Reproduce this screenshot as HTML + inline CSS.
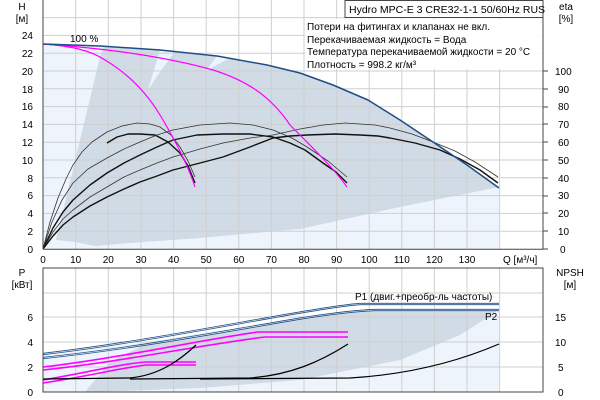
<!DOCTYPE html>
<html><head><meta charset="utf-8"><style>
body{margin:0;background:#fff;}
svg{display:block;font-family:"Liberation Sans",sans-serif;}
</style></head><body>
<svg width="600" height="400" viewBox="0 0 600 400" xmlns="http://www.w3.org/2000/svg">
<g>
<rect x="43" y="0" width="500" height="249" fill="#fff"/>
<polygon points="43,44 100,46 160,50 217,56 267,65 300,73 333,85 368,100 400,120 433,142 467,165 499,187 499,249 43,249" fill="#edf4fb"/>
<polygon points="100,57 104,46 160,50 217,56 267,65 300,73 333,85 368,100 400,120 433,142 467,165 499,187 400,207 300,229 200,238 130,243 95,246 75,242 56,240" fill="#d0dbe6"/>
<polygon points="148,90 160,50 176,50 160,72" fill="#edf4fb"/>
<polygon points="205,72 217,56 230,58 211,68" fill="#edf4fb"/>
<g stroke="#cfcfcf" stroke-width="1">
<line x1="75.7" y1="0" x2="75.7" y2="249"/><line x1="108.3" y1="0" x2="108.3" y2="249"/><line x1="141" y1="0" x2="141" y2="249"/><line x1="173.6" y1="0" x2="173.6" y2="249"/><line x1="206.2" y1="0" x2="206.2" y2="249"/><line x1="238.8" y1="0" x2="238.8" y2="249"/><line x1="271.4" y1="0" x2="271.4" y2="249"/><line x1="304" y1="0" x2="304" y2="249"/><line x1="336.6" y1="0" x2="336.6" y2="249"/><line x1="369.2" y1="0" x2="369.2" y2="249"/><line x1="401.8" y1="0" x2="401.8" y2="249"/><line x1="434.4" y1="0" x2="434.4" y2="249"/><line x1="467" y1="0" x2="467" y2="249"/><line x1="499.6" y1="0" x2="499.6" y2="249"/>
<line x1="43" y1="231.2" x2="543" y2="231.2"/><line x1="43" y1="213.4" x2="543" y2="213.4"/><line x1="43" y1="195.6" x2="543" y2="195.6"/><line x1="43" y1="177.8" x2="543" y2="177.8"/><line x1="43" y1="160" x2="543" y2="160"/><line x1="43" y1="142.2" x2="543" y2="142.2"/><line x1="43" y1="124.4" x2="543" y2="124.4"/><line x1="43" y1="106.6" x2="543" y2="106.6"/><line x1="43" y1="88.8" x2="543" y2="88.8"/><line x1="43" y1="71" x2="543" y2="71"/><line x1="43" y1="53.2" x2="543" y2="53.2"/><line x1="43" y1="35.4" x2="543" y2="35.4"/><line x1="43" y1="17.6" x2="543" y2="17.6"/>
</g>
<g fill="none" stroke="#333" stroke-linejoin="round">
<polyline points="43,249 50,222 58,198 66,179 73,165 82,152 92,142 107,132 122,126 137,123 150,124 160,127 171,135 180,147 188,161 195,177" stroke-width="0.8"/>
<polyline points="107,143 117,137 128,134 140,134 155,135 168,142 180,153 188,166 195,183" stroke="#111" stroke-width="1.4"/>
<polyline points="43,249 52,222 62,200 73,183 88,169 107,158 124,149 140,142 157,135 173,130 200,125 230,123 253,125 273,130 292,138 307,147 328,161 347,177" stroke-width="0.8"/>
<polyline points="43,249 53,228 63,212 73,200 90,185 107,173 124,163 140,155 157,147 173,140 197,135 223,134 250,134 273,137 290,143 305,150 323,163 336,172 347,183" stroke="#111" stroke-width="1.4"/>
<polyline points="43,249 53,232 63,219 73,210 90,197 107,187 124,177 140,170 157,163 173,157 200,149 223,143 250,138 273,135 300,129 323,125 345,123 360,124 375,125 390,128 412,134 433,142 455,151 475,162 498,177" stroke-width="0.8"/>
<polyline points="43,249 53,236 63,225 73,217 90,206 107,197 124,189 140,182 157,176 173,170 200,163 223,157 250,147 273,138 290,136 307,135 335,134 360,135 378,136 390,138 415,143 440,150 460,159 480,170 498,183" stroke="#111" stroke-width="1.4"/>
</g>
<g fill="none" stroke="#ff00ff" stroke-width="1.2">
<path d="M43,44 C70,46 90,50 105,60 C125,72 145,90 160,115 C175,140 188,165 195,187"/>
<path d="M43,44 C100,48 160,55 213,70 C245,80 270,95 290,125 C315,150 335,170 347,187"/>
</g>
<path d="M43,44 L100,46 L160,50 L217,56 L267,65 L300,73 L333,85 L368,100 L400,120 L433,142 L467,165 L499,188" fill="none" stroke="#1f4e86" stroke-width="1.5" stroke-linejoin="round"/>
<text x="70" y="42" font-size="10" fill="#000">100 %</text>
<line x1="43" y1="0" x2="43" y2="249" stroke="#444"/>
<line x1="43" y1="249.3" x2="543" y2="249.3" stroke="#444"/>
<line x1="543" y1="0" x2="543" y2="249" stroke="#444"/>
<rect x="345" y="0.5" width="198" height="17" fill="#fff" stroke="#444"/>
<text x="349" y="13" font-size="10.5">Hydro MPC-E 3 CRE32-1-1 50/60Hz RUS</text>
<rect x="305" y="19" width="237" height="50" fill="#fff" opacity="0.95"/>
<text x="307" y="30" font-size="10">Потери на фитингах и клапанах не вкл.</text>
<text x="307" y="43" font-size="10">Перекачиваемая жидкость = Вода</text>
<text x="307" y="55" font-size="10">Температура перекачиваемой жидкости = 20 °C</text>
<text x="307" y="68" font-size="10">Плотность = 998.2 кг/м³</text>
<g font-size="10" text-anchor="end">
<text x="33" y="253">0</text><text x="33" y="235">2</text><text x="33" y="217">4</text><text x="33" y="199">6</text><text x="33" y="182">8</text><text x="33" y="164">10</text><text x="33" y="146">12</text><text x="33" y="128">14</text><text x="33" y="110">16</text><text x="33" y="93">18</text><text x="33" y="75">20</text><text x="33" y="57">22</text><text x="33" y="39">24</text>
</g>
<text x="22" y="10" font-size="10" text-anchor="middle">H</text>
<text x="22" y="22" font-size="10" text-anchor="middle">[м]</text>
<text x="566" y="10" font-size="10" text-anchor="middle">eta</text>
<text x="566" y="22" font-size="10" text-anchor="middle">[%]</text>
<g font-size="10">
<text x="560" y="253">0</text><text x="558" y="235">10</text><text x="558" y="217">20</text><text x="558" y="199">30</text><text x="558" y="182">40</text><text x="558" y="164">50</text><text x="558" y="146">60</text><text x="558" y="128">70</text><text x="558" y="110">80</text><text x="558" y="93">90</text><text x="555" y="75">100</text>
</g>
<g stroke="#444"><line x1="543" y1="249" x2="548" y2="249"/><line x1="543" y1="231" x2="548" y2="231"/><line x1="543" y1="213" x2="548" y2="213"/><line x1="543" y1="196" x2="548" y2="196"/><line x1="543" y1="178" x2="548" y2="178"/><line x1="543" y1="160" x2="548" y2="160"/><line x1="543" y1="142" x2="548" y2="142"/><line x1="543" y1="124" x2="548" y2="124"/><line x1="543" y1="107" x2="548" y2="107"/><line x1="543" y1="89" x2="548" y2="89"/><line x1="543" y1="71" x2="548" y2="71"/></g>
<g font-size="10" text-anchor="middle">
<text x="43" y="263">0</text><text x="75.7" y="263">10</text><text x="108.3" y="263">20</text><text x="141" y="263">30</text><text x="173.6" y="263">40</text><text x="206.2" y="263">50</text><text x="238.8" y="263">60</text><text x="271.4" y="263">70</text><text x="304" y="263">80</text><text x="336.6" y="263">90</text><text x="369.2" y="263">100</text><text x="401.8" y="263">110</text><text x="434.4" y="263">120</text><text x="467" y="263">130</text>
</g>
<text x="503" y="263" font-size="10">Q [м³/ч]</text>
</g>
<g>
<polygon points="43,352 150,342 250,326 345,311 499,309 499,392 43,392" fill="#edf4fb"/>
<polygon points="85,392 110,362 150,342 250,326 345,311 370,309 499,309 499,310 460,335 400,360 300,380 200,388 120,391" fill="#d0dbe6"/>
<g stroke="#cfcfcf">
<line x1="75.7" y1="268" x2="75.7" y2="392"/><line x1="108.3" y1="268" x2="108.3" y2="392"/><line x1="141" y1="268" x2="141" y2="392"/><line x1="173.6" y1="268" x2="173.6" y2="392"/><line x1="206.2" y1="268" x2="206.2" y2="392"/><line x1="238.8" y1="268" x2="238.8" y2="392"/><line x1="271.4" y1="268" x2="271.4" y2="392"/><line x1="304" y1="268" x2="304" y2="392"/><line x1="336.6" y1="268" x2="336.6" y2="392"/><line x1="369.2" y1="268" x2="369.2" y2="392"/><line x1="401.8" y1="268" x2="401.8" y2="392"/><line x1="434.4" y1="268" x2="434.4" y2="392"/><line x1="467" y1="268" x2="467" y2="392"/><line x1="499.6" y1="268" x2="499.6" y2="392"/>
<line x1="43" y1="367" x2="543" y2="367"/><line x1="43" y1="342" x2="543" y2="342"/><line x1="43" y1="317" x2="543" y2="317"/><line x1="43" y1="293" x2="543" y2="293"/>
</g>
<g fill="none" stroke="#1f4e86" stroke-width="2.2">
<path d="M43,354 C120,345 200,330 280,316 C320,309 345,305 360,304 L499,304"/>
<path d="M43,358 C120,350 200,336 280,322 C320,315 350,311 375,310 L499,310"/>
</g>
<g fill="none" stroke="#fff" stroke-width="0.6">
<path d="M43,354 C120,345 200,330 280,316 C320,309 345,305 360,304 L499,304"/>
<path d="M43,358 C120,350 200,336 280,322 C320,315 350,311 375,310 L499,310"/>
</g>
<g fill="none" stroke="#ff00ff" stroke-width="1.6">
<path d="M43,367 C120,358 200,340 258,332 L348,332"/>
<path d="M43,370 C120,362 200,345 265,337 L348,337"/>
<path d="M43,380 C90,372 120,364 146,362 L196,362"/>
<path d="M43,383 C90,376 120,368 146,365 L196,365"/>
</g>
<g fill="none" stroke="#000" stroke-width="1.2">
<path d="M43,379 L130,378 C160,375 180,360 196,345"/>
<path d="M130,379 L250,378 C290,375 320,362 348,344"/>
<path d="M200,379 L350,378 C400,375 450,365 499,344"/>
</g>
<text x="355" y="300" font-size="10">P1 (двиг.+преобр-ль частоты)</text>
<text x="485" y="320" font-size="10">P2</text>
<rect x="43" y="268" width="500" height="124" fill="none" stroke="#444"/>
<g font-size="10" text-anchor="end">
<text x="33" y="396">0</text><text x="33" y="371">2</text><text x="33" y="346">4</text><text x="33" y="321">6</text>
</g>
<text x="22" y="276" font-size="10" text-anchor="middle">P</text>
<text x="22" y="288" font-size="10" text-anchor="middle">[кВт]</text>
<text x="570" y="276" font-size="10" text-anchor="middle">NPSH</text>
<text x="570" y="288" font-size="10" text-anchor="middle">[м]</text>
<g font-size="10">
<text x="558" y="396">0</text><text x="558" y="371">5</text><text x="555" y="346">10</text><text x="555" y="321">15</text>
</g>
</g>
</svg>
</body></html>
